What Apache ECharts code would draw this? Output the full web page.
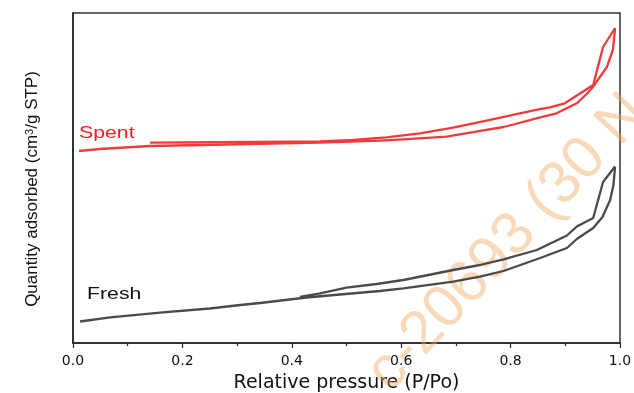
<!DOCTYPE html>
<html>
<head>
<meta charset="utf-8">
<script src="https://cdn.jsdelivr.net/npm/echarts@6/dist/echarts.min.js"></script>
<style>
  html, body { margin: 0; padding: 0; background: #fff; }
  #chart { width: 634px; height: 393px; }
</style>
</head>
<body>
<div id="chart"></div>
<script>
// isotherm points: [relative pressure, quantity adsorbed] (quantity axis is unlabelled)
const spentAds = [
  [0.011, 192], [0.049, 194], [0.141, 197], [0.232, 198], [0.452, 200.3],
  [0.561, 202.3], [0.604, 203.7], [0.683, 206.3], [0.726, 210.3], [0.787, 216],
  [0.805, 218.5], [0.854, 225.7], [0.884, 229.7], [0.921, 239.7], [0.939, 249],
  [0.951, 256.3], [0.976, 276], [0.987, 293], [0.991, 315]
];
const spentDes = [
  [0.991, 315], [0.969, 296], [0.951, 258], [0.899, 239.7], [0.872, 235.7],
  [0.851, 233.7], [0.817, 229.7], [0.756, 222.3], [0.695, 215.3], [0.634, 209.7],
  [0.573, 205.7], [0.512, 203], [0.452, 201.5], [0.141, 200.3]
];
const freshAds = [
  [0.013, 21.5], [0.068, 25.7], [0.159, 30.3], [0.25, 34.5], [0.306, 38],
  [0.342, 40], [0.427, 45.5], [0.488, 48.5], [0.561, 52], [0.604, 54.7],
  [0.695, 61.3], [0.744, 66.3], [0.787, 72], [0.854, 85], [0.903, 95],
  [0.921, 104], [0.951, 115], [0.968, 126], [0.982, 143], [0.988, 158], [0.991, 176]
];
const freshDes = [
  [0.991, 176.5], [0.969, 161], [0.96, 143], [0.951, 125], [0.921, 116.5],
  [0.903, 107.5], [0.848, 93], [0.787, 83.7], [0.744, 78], [0.695, 73],
  [0.604, 63], [0.555, 59], [0.5, 55.3], [0.452, 49.7], [0.415, 46]
];
const sampleNames = ['Spent', 'Fresh'];
const watermark = 'c-20693 (30 N';

const red = '#ee3b3b';
const gray = '#4a4a4a';

const chart = echarts.init(document.getElementById('chart'), null, { renderer: 'canvas' });

function branch(name, data, color) {
  return {
    name: name,
    type: 'line',
    data: data,
    symbol: 'none',
    smooth: false,
    z: 3,
    lineStyle: { color: color, width: 2.3 }
  };
}

const option = {
  backgroundColor: '#fff',
  animation: false,
  grid: {
    left: 73, right: 14, top: 13, bottom: 50,
    outerBoundsMode: 'none',
    containLabel: false,
    show: true,
    borderColor: '#333',
    borderWidth: 1.5
  },
  xAxis: {
    type: 'value',
    min: 0,
    max: 1,
    interval: 0.2,
    name: 'Relative pressure (P/Po)',
    nameLocation: 'middle',
    nameGap: 31,
    nameTextStyle: { fontFamily: 'DejaVu Sans', fontSize: 19, color: '#111' },
    axisLine: { lineStyle: { color: '#222', width: 1.5 } },
    axisTick: { show: true, length: 5, lineStyle: { color: '#222', width: 1.2 } },
    minorTick: { show: true, splitNumber: 2, length: 3, lineStyle: { color: '#222', width: 1.2 } },
    axisLabel: {
      margin: 11,
      fontFamily: 'DejaVu Sans',
      fontSize: 14,
      color: '#111',
      formatter: v => v.toFixed(1)
    },
    splitLine: { show: false }
  },
  yAxis: {
    type: 'value',
    min: 0,
    max: 330,
    name: 'Quantity adsorbed (cm{sup|3}/g STP)',
    nameLocation: 'middle',
    nameRotate: 90,
    nameGap: 32,
    nameTextStyle: {
      fontFamily: 'Liberation Sans',
      fontSize: 17,
      color: '#111',
      padding: [0, 22, 0, 0],
      rich: {
        sup: { fontFamily: 'Liberation Sans', fontSize: 11, color: '#111', verticalAlign: 'top', lineHeight: 11 }
      }
    },
    axisLine: { show: true, lineStyle: { color: '#222', width: 1.5 } },
    axisTick: { show: false },
    axisLabel: { show: false },
    splitLine: { show: false }
  },
  graphic: [
    {
      type: 'text',
      x: 378, y: 382,
      rotation: 47 * Math.PI / 180,
      z: 1,
      style: {
        text: watermark,
        font: '60px "Liberation Sans"',
        fill: 'rgba(238,165,90,0.42)',
        textAlign: 'left',
        textVerticalAlign: 'middle'
      }
    },
    {
      type: 'text',
      x: 79, y: 125,
      scaleX: 1.25,
      z: 5,
      style: { text: sampleNames[0], font: '17px "Liberation Sans"', fill: '#ff1a1a', textAlign: 'left', textVerticalAlign: 'top' }
    },
    {
      type: 'text',
      x: 87, y: 286,
      scaleX: 1.25,
      z: 5,
      style: { text: sampleNames[1], font: '17px "Liberation Sans"', fill: '#111', textAlign: 'left', textVerticalAlign: 'top' }
    }
  ],
  series: [
    branch('Spent adsorption', spentAds, red),
    branch('Spent desorption', spentDes, red),
    branch('Fresh adsorption', freshAds, gray),
    branch('Fresh desorption', freshDes, gray)
  ]
};

chart.setOption(option);
</script>
</body>
</html>
